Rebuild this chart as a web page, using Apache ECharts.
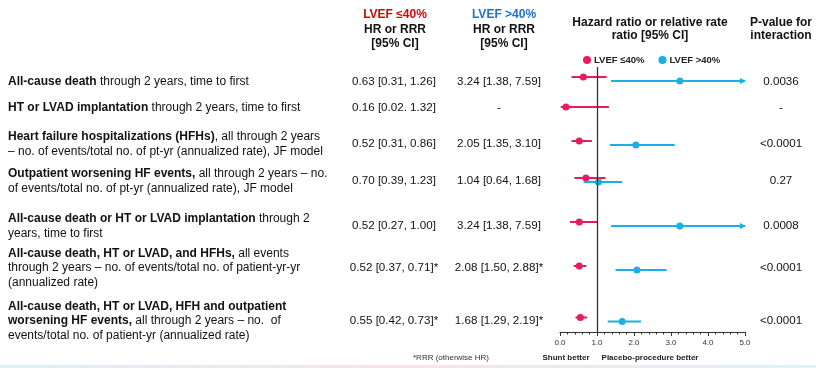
<!DOCTYPE html>
<html><head><meta charset="utf-8">
<script src="https://cdn.jsdelivr.net/npm/echarts@6/dist/echarts.min.js"></script>
<style>html,body{margin:0;padding:0;background:#fff}#c{width:816px;height:368px}</style>
</head><body><div id="c"></div>
<script>
// ---------- data ----------
const groups = ['LVEF ≤40%', 'LVEF >40%'];
const outcomeBold = [
  'All-cause death',
  'HT or LVAD implantation',
  'Heart failure hospitalizations (HFHs)',
  'Outpatient worsening HF events,',
  'All-cause death or HT or LVAD implantation',
  'All-cause death, HT or LVAD, and HFHs,',
  'All-cause death, HT or LVAD, HFH and outpatient\nworsening HF events,'
];
const outcomeRest = [
  ' through 2 years, time to first',
  ' through 2 years, time to first',
  ', all through 2 years\n– no. of events/total no. of pt-yr (annualized rate), JF model',
  ' all through 2 years – no.\nof events/total no. of pt-yr (annualized rate), JF model',
  ' through 2\nyears, time to first',
  ' all events\nthrough 2 years – no. of events/total no. of patient-yr-yr\n(annualized rate)',
  ' all through 2 years – no.  of\nevents/total no. of patient-yr (annualized rate)'
];
const lowEst  = [0.63, 0.16, 0.52, 0.70, 0.52, 0.52, 0.55];
const lowLo   = [0.31, 0.02, 0.31, 0.39, 0.27, 0.37, 0.42];
const lowHi   = [1.26, 1.32, 0.86, 1.23, 1.00, 0.71, 0.73];
const lowSep  = [', ', '. ', ', ', ', ', ', ', ', ', ', '];
const highEst = [3.24, null, 2.05, 1.04, 3.24, 2.08, 1.68];
const highLo  = [1.38, null, 1.35, 0.64, 1.38, 1.50, 1.29];
const highHi  = [7.59, null, 3.10, 1.68, 7.59, 2.88, 2.19];
const isRRR   = [false, false, false, false, false, true, true];
const pValues = ['0.0036', '-', '<0.0001', '0.27', '0.0008', '<0.0001', '<0.0001'];
const xMin = 0, xMax = 5, xStep = 1;

// ---------- layout (row placement on the vertical axis, not data) ----------
const rowPos  = [79, 107, 143, 180, 224, 268, 319.5];
const textPos = [82, 108, 144, 181, 226, 268, 321];
const colors = ['#EC1A5C', '#1AAFE6'];
const headColors = ['#CC0A0A', '#1E72C8'];
const FONT = '"Liberation Sans", Arial, sans-serif';

function ciText(e, l, h, sep, rrr) {
  if (e == null) return '-';
  return e.toFixed(2) + ' [' + l.toFixed(2) + sep + h.toFixed(2) + ']' + (rrr ? '*' : '');
}
function richLabel(bold, rest) {
  const full = bold + rest;
  let pos = 0;
  return full.split('\n').map(line => {
    const bEnd = Math.min(Math.max(bold.length - pos, 0), line.length);
    let s = '';
    if (bEnd > 0) s += '{b|' + line.slice(0, bEnd) + '}';
    if (bEnd < line.length) s += '{n|' + line.slice(bEnd) + '}';
    pos += line.length + 1;
    return s;
  }).join('\n');
}

function makeSeries(gi, est, lo, hi) {
  const other = gi === 0 ? highEst : lowEst;
  const data = [];
  est.forEach((v, i) => {
    if (v == null) return;
    data.push([v, lo[i], hi[i], rowPos[i], other[i] == null ? 0 : (gi === 0 ? -2 : 2)]);
  });
  return {
    type: 'custom', name: groups[gi], data: data,
    itemStyle: { color: colors[gi] },
    encode: { x: [0, 1, 2], y: 3 },
    renderItem: function (params, api) {
      const y = api.value(3), off = api.value(4);
      const h = api.value(2);
      const pL = api.coord([api.value(1), y]);
      const pH = api.coord([Math.min(h, xMax), y]);
      const pE = api.coord([api.value(0), y]);
      const yy = pE[1] + off;
      const ch = [
        { type: 'line', shape: { x1: pL[0], y1: yy, x2: pH[0], y2: yy },
          style: { stroke: colors[gi], lineWidth: 2 } },
        { type: 'circle', shape: { cx: pE[0], cy: yy, r: 3.5 },
          style: { fill: colors[gi] } }
      ];
      if (h > xMax) {
        ch.push({ type: 'polygon', shape: { points: [[pH[0] + 1, yy], [pH[0] - 5, yy - 3], [pH[0] - 5, yy + 3]] },
          style: { fill: colors[gi] } });
      }
      return { type: 'group', children: ch };
    },
    markLine: gi === 0 ? {
      silent: true, symbol: 'none', label: { show: false },
      lineStyle: { color: '#333', width: 1.3, type: 'solid' },
      data: [{ xAxis: 1 }]
    } : undefined,
    z: 3
  };
}

const chart = echarts.init(document.getElementById('c'), null, { renderer: 'canvas' });
chart.setOption({
  animation: false,
  backgroundColor: '#fff',
  textStyle: { fontFamily: FONT },
  grid: { left: 560, right: 71, top: 67, bottom: 36 },
  legend: {
    data: groups.map(n => ({ name: n, icon: 'circle' })),
    top: 50, left: 578, itemWidth: 8, itemHeight: 8, itemGap: 14,
    textStyle: { fontSize: 9.5, fontWeight: 'bold', color: '#222', fontFamily: FONT, padding: [0, 0, 0, -2] }
  },
  xAxis: {
    type: 'value', min: xMin, max: xMax, interval: xStep,
    splitLine: { show: false },
    axisLine: { show: true, lineStyle: { color: '#333', width: 1 } },
    axisTick: { show: true, length: 4, lineStyle: { color: '#333' } },
    minorTick: { show: true, splitNumber: 5, length: 2.5, lineStyle: { color: '#333' } },
    axisLabel: { fontSize: 8, color: '#333', margin: 7, formatter: v => v.toFixed(1) }
  },
  yAxis: { type: 'value', min: 67, max: 332, inverse: true, show: false },
  series: [makeSeries(0, lowEst, lowLo, lowHi), makeSeries(1, highEst, highLo, highHi)]
});

const g = [];
function txt(x, y, text, opt) {
  g.push({ type: 'text', x: x, y: y, silent: true,
    style: Object.assign({ text: text, align: 'center', verticalAlign: 'middle',
      font: '12px ' + FONT, fill: '#111' }, opt || {}) });
}
// headers
txt(395, 15, groups[0], { font: 'bold 12px ' + FONT, fill: headColors[0] });
txt(395, 30, 'HR or RRR', { font: 'bold 12px ' + FONT });
txt(395, 44, '[95% CI]', { font: 'bold 12px ' + FONT });
txt(504, 15, groups[1], { font: 'bold 12px ' + FONT, fill: headColors[1] });
txt(504, 30, 'HR or RRR', { font: 'bold 12px ' + FONT });
txt(504, 44, '[95% CI]', { font: 'bold 12px ' + FONT });
txt(650, 23, 'Hazard ratio or relative rate', { font: 'bold 12px ' + FONT });
txt(650, 36, 'ratio [95% CI]', { font: 'bold 12px ' + FONT });
txt(781, 23, 'P-value for', { font: 'bold 12px ' + FONT });
txt(781, 36, 'interaction', { font: 'bold 12px ' + FONT });

outcomeBold.forEach((b, i) => {
  const y = chart.convertToPixel({ yAxisIndex: 0 }, textPos[i]);
  g.push({ type: 'text', x: 8, y: y, silent: true,
    style: { text: richLabel(b, outcomeRest[i]), align: 'left', verticalAlign: 'middle',
      lineHeight: 14.5, fill: '#111',
      rich: {
        b: { fontFamily: FONT, fontSize: 12, fontWeight: 'bold', fill: '#111', lineHeight: 14.5 },
        n: { fontFamily: FONT, fontSize: 12, fill: '#111', lineHeight: 14.5 }
      } } });
  txt(394, y, ciText(lowEst[i], lowLo[i], lowHi[i], lowSep[i], isRRR[i]), { font: '11.6px ' + FONT });
  txt(499, y, ciText(highEst[i], highLo[i], highHi[i], ', ', isRRR[i]), { font: '11.6px ' + FONT });
  txt(781, y, pValues[i], { font: '11.6px ' + FONT });
});
txt(451, 358, '*RRR (otherwise HR)', { font: '8px ' + FONT, fill: '#333' });
txt(566, 358, 'Shunt better', { font: 'bold 8px ' + FONT, fill: '#222' });
txt(650, 358, 'Placebo-procedure better', { font: 'bold 8px ' + FONT, fill: '#222' });
g.push({ type: 'rect', shape: { x: 0, y: 365, width: 816, height: 3 }, silent: true,
  style: { fill: new echarts.graphic.LinearGradient(0, 0, 1, 0, [
    { offset: 0, color: '#dff0f8' }, { offset: 0.5, color: '#f7e3ef' }, { offset: 1, color: '#e0f1fa' }]) } });
chart.setOption({ graphic: g });
</script>
</body></html>
